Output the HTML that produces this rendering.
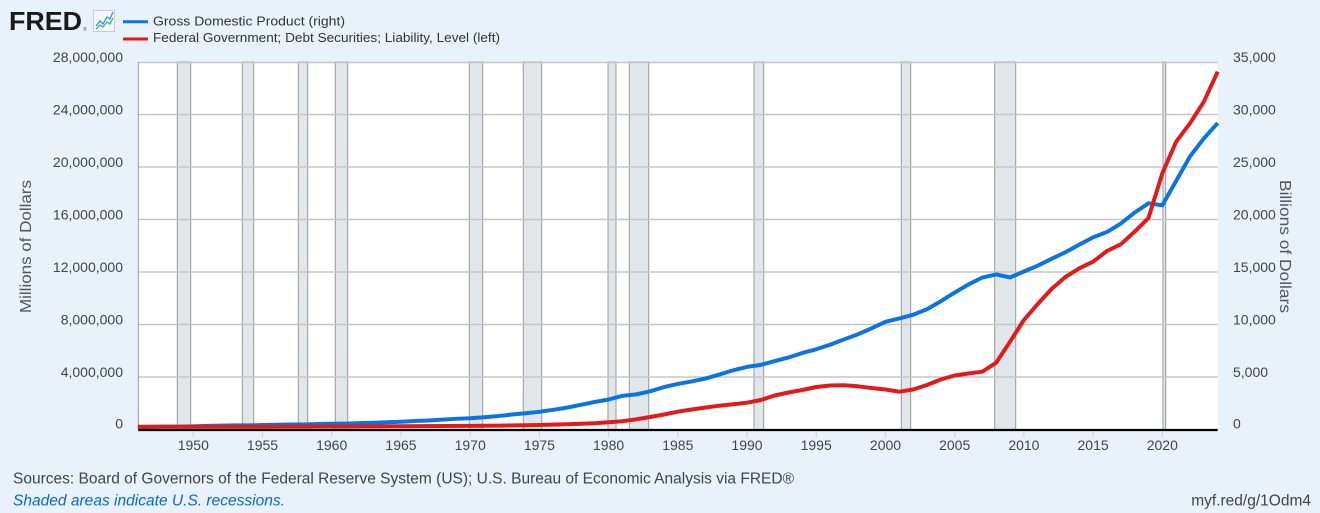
<!DOCTYPE html>
<html><head><meta charset="utf-8"><style>
html,body{margin:0;padding:0;background:#e9f1fa;}
svg{display:block;font-family:"Liberation Sans",sans-serif;}
</style></head><body>
<svg width="1320" height="513" viewBox="0 0 1320 513" xmlns="http://www.w3.org/2000/svg">
<rect x="0" y="0" width="1320" height="513" fill="#e9f1fa"/>
<!-- header -->
<text x="9" y="30" font-size="26" font-weight="bold" fill="#1a1a1a" textLength="73" lengthAdjust="spacingAndGlyphs">FRED</text>
<text x="83" y="31" font-size="5" fill="#555">®</text>
<rect x="93.5" y="10.5" width="21" height="21" fill="#f4f7fa" stroke="#c9ccd0" stroke-width="1"/>
<polyline points="96,26 100,21 103,24 107,17 110,19 113,12" fill="none" stroke="#3d8ee0" stroke-width="1.3"/>
<polyline points="96,29 100,25 103,27 107,22 110,24 113,18" fill="none" stroke="#3fb58a" stroke-width="1.3"/>
<line x1="123" y1="21.7" x2="148" y2="21.7" stroke="#0b73e2" stroke-width="3"/>
<line x1="123" y1="39" x2="148" y2="39" stroke="#e31a1c" stroke-width="3"/>
<text x="153" y="25.5" font-size="13" fill="#333" textLength="192" lengthAdjust="spacingAndGlyphs">Gross Domestic Product (right)</text>
<text x="153" y="42" font-size="13" fill="#333" textLength="347" lengthAdjust="spacingAndGlyphs">Federal Government; Debt Securities; Liability, Level (left)</text>

<!-- plot area -->
<rect x="138.3" y="62" width="1079.4" height="368" fill="#ffffff"/>
<!-- recessions -->
<g fill="#e1e6ea" stroke="#9a9a9a" stroke-width="1">
<rect x="177.3" y="62" width="13.4" height="368"/>
<rect x="242.3" y="62" width="11.4" height="368"/>
<rect x="298.3" y="62" width="9.4" height="368"/>
<rect x="335.3" y="62" width="12.4" height="368"/>
<rect x="469.3" y="62" width="13.4" height="368"/>
<rect x="523.3" y="62" width="18.4" height="368"/>
<rect x="608" y="62" width="8" height="368"/>
<rect x="629.3" y="62" width="19.4" height="368"/>
<rect x="754" y="62" width="9.7" height="368"/>
<rect x="901.3" y="62" width="9.4" height="368"/>
<rect x="994.7" y="62" width="21" height="368"/>
<rect x="1163" y="62" width="2.7" height="368"/>
</g>
<!-- gridlines -->
<g stroke="#c6c6c6" stroke-width="1.5">
<line x1="138.3" y1="62.5" x2="1217.7" y2="62.5"/>
<line x1="138.3" y1="114.5" x2="1217.7" y2="114.5"/>
<line x1="138.3" y1="167" x2="1217.7" y2="167"/>
<line x1="138.3" y1="219.5" x2="1217.7" y2="219.5"/>
<line x1="138.3" y1="272" x2="1217.7" y2="272"/>
<line x1="138.3" y1="324.5" x2="1217.7" y2="324.5"/>
<line x1="138.3" y1="377" x2="1217.7" y2="377"/>
</g>
<line x1="138.3" y1="62" x2="138.3" y2="430" stroke="#9a9a9a" stroke-width="1"/>

<!-- GDP -->
<polyline fill="none" stroke="#0b73e2" stroke-width="4" stroke-linejoin="round" stroke-linecap="butt" points="137.93,427.11 151.77,426.88 165.61,426.62 179.46,426.64 193.3,426.35 207.14,425.86 220.99,425.64 234.83,425.41 248.67,425.40 262.52,425.03 276.36,424.78 290.20,424.52 304.04,424.45 317.89,424.02 331.73,423.80 345.57,423.60 359.42,423.16 373.26,422.81 387.10,422.31 400.95,421.71 414.79,420.96 428.63,420.47 442.48,419.62 456.32,418.81 470.16,418.23 484.01,417.27 497.85,416.07 511.69,414.53 525.53,413.28 539.38,411.81 553.22,409.83 567.06,407.64 580.91,404.81 594.75,401.91 608.59,399.50 622.44,395.83 636.28,394.39 650.12,391.34 663.97,387.11 677.81,383.94 691.65,381.41 705.49,378.52 719.34,374.52 733.18,370.26 747.02,366.89 760.87,364.84 774.71,361.04 788.55,357.48 802.40,352.98 816.24,349.28 830.08,344.73 843.93,339.44 857.77,334.34 871.61,328.37 885.45,321.86 899.30,318.39 913.14,314.74 926.98,309.22 940.83,301.22 954.67,292.59 968.51,284.44 982.36,277.52 996.20,274.42 1010.04,277.48 1023.89,271.49 1037.73,265.70 1051.57,258.83 1065.42,252.25 1079.26,244.61 1093.10,237.40 1106.94,232.05 1120.79,223.57 1134.63,212.61 1148.47,203.33 1162.32,205.28 1176.16,180.85 1190.00,156.43 1203.85,138.43 1217.69,123.06"/>
<!-- Debt -->
<polyline fill="none" stroke="#e31a1c" stroke-width="4" stroke-linejoin="round" stroke-linecap="butt" points="137.93,426.8 193.3,426.8 262.52,426.7 331.73,426.5 400.95,426.3 470.16,425.9 497.85,425.6 525.53,425.3 539.38,425.0 553.22,424.6 567.06,424.2 580.91,423.8 594.75,423.2 608.59,422.3 622.44,421.2 636.28,419.3 650.12,417 663.97,414.5 677.81,411.7 691.65,409.5 705.49,407.5 719.34,405.7 733.18,404.3 747.02,402.7 760.87,400 774.71,395.5 788.55,392.5 802.40,390 816.24,387 830.08,385.5 843.93,385.3 857.77,386.3 871.61,388 885.45,389.5 899.30,391.7 913.14,389.5 926.98,385 940.83,379.5 954.67,375.5 968.51,373.5 982.36,371.7 996.20,362.7 1010.04,341.7 1023.89,320 1037.73,304 1051.57,289 1065.42,277 1079.26,268.3 1093.10,261.7 1106.94,251 1120.79,244.3 1134.63,231.7 1148.47,218 1162.32,173.3 1176.16,141.7 1190.00,123.3 1203.85,101.7 1217.69,71.7"/>

<!-- x axis -->
<line x1="138.3" y1="430" x2="1217.7" y2="430" stroke="#000" stroke-width="2.2"/>
<g stroke="#c3d2e6" stroke-width="1">
<line x1="193.3" y1="431" x2="193.3" y2="437"/>
<line x1="262.5" y1="431" x2="262.5" y2="437"/>
<line x1="331.7" y1="431" x2="331.7" y2="437"/>
<line x1="401" y1="431" x2="401" y2="437"/>
<line x1="470.2" y1="431" x2="470.2" y2="437"/>
<line x1="539.4" y1="431" x2="539.4" y2="437"/>
<line x1="608.6" y1="431" x2="608.6" y2="437"/>
<line x1="677.8" y1="431" x2="677.8" y2="437"/>
<line x1="747" y1="431" x2="747" y2="437"/>
<line x1="816.2" y1="431" x2="816.2" y2="437"/>
<line x1="885.5" y1="431" x2="885.5" y2="437"/>
<line x1="954.7" y1="431" x2="954.7" y2="437"/>
<line x1="1023.9" y1="431" x2="1023.9" y2="437"/>
<line x1="1093.1" y1="431" x2="1093.1" y2="437"/>
<line x1="1162.3" y1="431" x2="1162.3" y2="437"/>
</g>
<g font-size="14" fill="#444" text-anchor="middle">
<text x="193.3" y="450">1950</text>
<text x="262.5" y="450">1955</text>
<text x="331.7" y="450">1960</text>
<text x="401" y="450">1965</text>
<text x="470.2" y="450">1970</text>
<text x="539.4" y="450">1975</text>
<text x="608.6" y="450">1980</text>
<text x="677.8" y="450">1985</text>
<text x="747" y="450">1990</text>
<text x="816.2" y="450">1995</text>
<text x="885.5" y="450">2000</text>
<text x="954.7" y="450">2005</text>
<text x="1023.9" y="450">2010</text>
<text x="1093.1" y="450">2015</text>
<text x="1162.3" y="450">2020</text>
</g>
<!-- left axis labels -->
<g font-size="14" fill="#444" text-anchor="end">
<text x="123" y="62">28,000,000</text>
<text x="123" y="114.5">24,000,000</text>
<text x="123" y="167">20,000,000</text>
<text x="123" y="219.5">16,000,000</text>
<text x="123" y="272">12,000,000</text>
<text x="123" y="324.5">8,000,000</text>
<text x="123" y="377">4,000,000</text>
<text x="123" y="428.5">0</text>
</g>
<!-- right axis labels -->
<g font-size="14" fill="#444" text-anchor="start">
<text x="1233" y="62">35,000</text>
<text x="1233" y="114.5">30,000</text>
<text x="1233" y="167">25,000</text>
<text x="1233" y="219.5">20,000</text>
<text x="1233" y="272">15,000</text>
<text x="1233" y="324.5">10,000</text>
<text x="1233" y="377">5,000</text>
<text x="1233" y="428.5">0</text>
</g>
<text transform="translate(31,246.5) rotate(-90)" font-size="16" fill="#555" text-anchor="middle" textLength="133" lengthAdjust="spacingAndGlyphs">Millions of Dollars</text>
<text transform="translate(1280,246.5) rotate(90)" font-size="16" fill="#555" text-anchor="middle" textLength="133" lengthAdjust="spacingAndGlyphs">Billions of Dollars</text>

<!-- footer -->
<text x="13" y="483.5" font-size="15.5" fill="#444" textLength="781" lengthAdjust="spacingAndGlyphs">Sources: Board of Governors of the Federal Reserve System (US); U.S. Bureau of Economic Analysis via FRED®</text>
<text x="13" y="505.5" font-size="15.5" font-style="italic" fill="#0a68d4" textLength="272" lengthAdjust="spacingAndGlyphs">Shaded areas indicate U.S. recessions.</text>
<text x="1311" y="505.5" font-size="15.5" fill="#444" text-anchor="end">myf.red/g/1Odm4</text>
</svg>
</body></html>
